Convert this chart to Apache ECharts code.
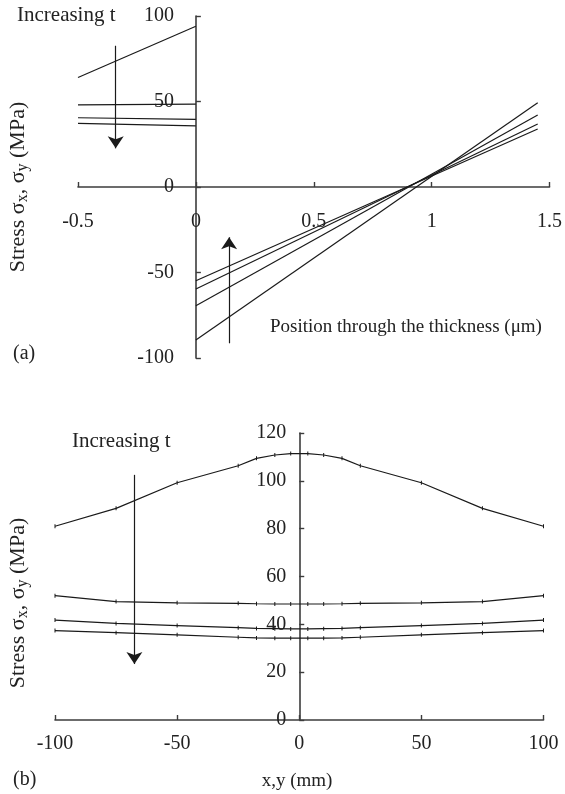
<!DOCTYPE html>
<html>
<head>
<meta charset="utf-8">
<script src="https://cdn.jsdelivr.net/npm/echarts@6/dist/echarts.min.js"></script>
<style>
  html, body { margin: 0; padding: 0; background: #fff; }
  #chart { width: 565px; height: 794px; }
</style>
</head>
<body>
<div id="chart"></div>
<script>
// ---- (a) stress through the thickness ----
const aXTicks = [-0.5, 0, 0.5, 1, 1.5];
const aYTicks = [-100, -50, 0, 50, 100];
const filmX = [-0.5, 0];
const filmStress = [
  [64, 94],
  [48, 48.5],
  [40.5, 39.6],
  [37.2, 35.8]
];
const substrateX = [0, 1.45];
const substrateStress = [
  [-89.5, 49.3],
  [-69.4, 42.1],
  [-59.6, 36.8],
  [-54.8, 33.9]
];
// arrows: [x, yStart, yEnd]
const aArrowDown = [-0.34, 82.6, 22.6];
const aArrowUp = [0.141, -91.4, -29.4];

// ---- (b) stress across the surface ----
const bXTicks = [-100, -50, 0, 50, 100];
const bYTicks = [0, 20, 40, 60, 80, 100, 120];
const surfaceX = [-100, -75, -50, -25, -17.5, -10, -3.5, 3.5, 10, 17.5, 25, 50, 75, 100];
const surfaceStress = [
  [81, 88.5, 99.2, 106.3, 109.4, 110.8, 111.4, 111.4, 110.8, 109.4, 106.3, 99.2, 88.5, 81],
  [52, 49.5, 49, 48.8, 48.6, 48.5, 48.5, 48.5, 48.5, 48.6, 48.8, 49, 49.5, 52],
  [41.8, 40.4, 39.5, 38.6, 38.3, 38.2, 38.1, 38.1, 38.2, 38.3, 38.6, 39.5, 40.4, 41.8],
  [37.4, 36.5, 35.6, 34.6, 34.3, 34.2, 34.2, 34.2, 34.2, 34.3, 34.6, 35.6, 36.5, 37.4]
];
const bArrowDown = [-67.5, 102.5, 23.4];

const FONT = 'Liberation Serif';
const INK = '#1a1a1a';
const AXIS = '#3c3c3c';

function valueAxis(ticks, gridIndex, margin) {
  return {
    type: 'value',
    gridIndex: gridIndex,
    min: ticks[0],
    max: ticks[ticks.length - 1],
    interval: ticks[1] - ticks[0],
    offset: 0,
    splitLine: { show: false },
    axisLine: { show: true, onZero: false, lineStyle: { color: AXIS, width: 1.6 } },
    axisTick: { show: true, inside: true, length: 5, lineStyle: { color: AXIS, width: 1.4 } },
    axisLabel: { color: '#222', fontFamily: FONT, fontSize: 20, margin: margin }
  };
}

function lineSeries(xs, ys, xi, yi, marks) {
  return {
    type: 'line',
    xAxisIndex: xi,
    yAxisIndex: yi,
    data: xs.map((x, i) => [x, ys[i]]),
    showSymbol: !!marks,
    symbol: 'rect',
    symbolSize: [1, 4],
    itemStyle: { color: INK },
    lineStyle: { color: INK, width: 1.2 },
    silent: true,
    animation: false,
    z: 3
  };
}

function arrowSeries(arrow, xi, yi) {
  return {
    type: 'line',
    xAxisIndex: xi,
    yAxisIndex: yi,
    data: [],
    silent: true,
    animation: false,
    markLine: {
      silent: true,
      animation: false,
      symbol: ['none', 'arrow'],
      symbolSize: 12,
      label: { show: false },
      lineStyle: { color: INK, width: 1.2, type: 'solid' },
      data: [[{ coord: [arrow[0], arrow[1]] }, { coord: [arrow[0], arrow[2]] }]]
    }
  };
}

const series = [];
filmStress.forEach(s => series.push(lineSeries(filmX, s, 0, 0, false)));
substrateStress.forEach(s => series.push(lineSeries(substrateX, s, 0, 0, false)));
series.push(arrowSeries(aArrowDown, 0, 0));
series.push(arrowSeries(aArrowUp, 0, 0));
surfaceStress.forEach(s => series.push(lineSeries(surfaceX, s, 1, 1, true)));
series.push(arrowSeries(bArrowDown, 1, 1));

function label(text, x, y, size, align) {
  return {
    type: 'text', x: x, y: y, silent: true,
    style: {
      text: text, align: align || 'left', verticalAlign: 'middle',
      fontFamily: FONT, fontSize: size, fill: '#222'
    }
  };
}
function stressTitle(x, y) {
  return {
    type: 'text', x: x, y: y, rotation: Math.PI / 2, silent: true,
    style: {
      text: 'Stress σ{sub|x}, σ{sub|y} (MPa)',
      align: 'center', verticalAlign: 'middle',
      fontFamily: FONT, fontSize: 22, fill: '#222',
      rich: { sub: { fontFamily: FONT, fontSize: 16, fill: '#222', padding: [10, 0, 0, 0] } }
    }
  };
}

const xAxes = [valueAxis(aXTicks, 0, 25), valueAxis(bXTicks, 1, 14)];
const yAxes = [valueAxis(aYTicks, 0, 22), valueAxis(bYTicks, 1, 13)];

const option = {
  backgroundColor: '#fff',
  animation: false,
  grid: [
    { left: 78, right: 8, top: 16, bottom: 436 },
    { left: 55, right: 21.5, top: 433, bottom: 74 }
  ],
  xAxis: xAxes,
  yAxis: yAxes,
  series: series,
  graphic: [
    label('Increasing t', 17, 15, 21),
    label('Position through the thickness (μm)', 270, 327, 19),
    label('(a)', 13, 354, 20),
    stressTitle(18, 187),
    label('Increasing t', 72, 441, 21),
    label('x,y (mm)', 297, 781, 19, 'center'),
    label('(b)', 13, 780, 20),
    stressTitle(18, 603)
  ]
};

const chart = echarts.init(document.getElementById('chart'), null, { renderer: 'canvas' });
chart.setOption(option);

// Move each axis (line, ticks and labels together) onto the other axis's zero,
// using the scales the chart has just laid out.
function px(axisKey, index, value) {
  const finder = {};
  finder[axisKey] = index;
  return chart.convertToPixel(finder, value);
}
const aYOffset = px('xAxisIndex', 0, aXTicks[0]) - px('xAxisIndex', 0, 0);
const aXOffset = px('yAxisIndex', 0, 0) - px('yAxisIndex', 0, aYTicks[0]);
const bYOffset = px('xAxisIndex', 1, bXTicks[0]) - px('xAxisIndex', 1, 0);
chart.setOption({
  xAxis: [{ offset: aXOffset }, {}],
  yAxis: [{ offset: aYOffset }, { offset: bYOffset }]
});
</script>
</body>
</html>
